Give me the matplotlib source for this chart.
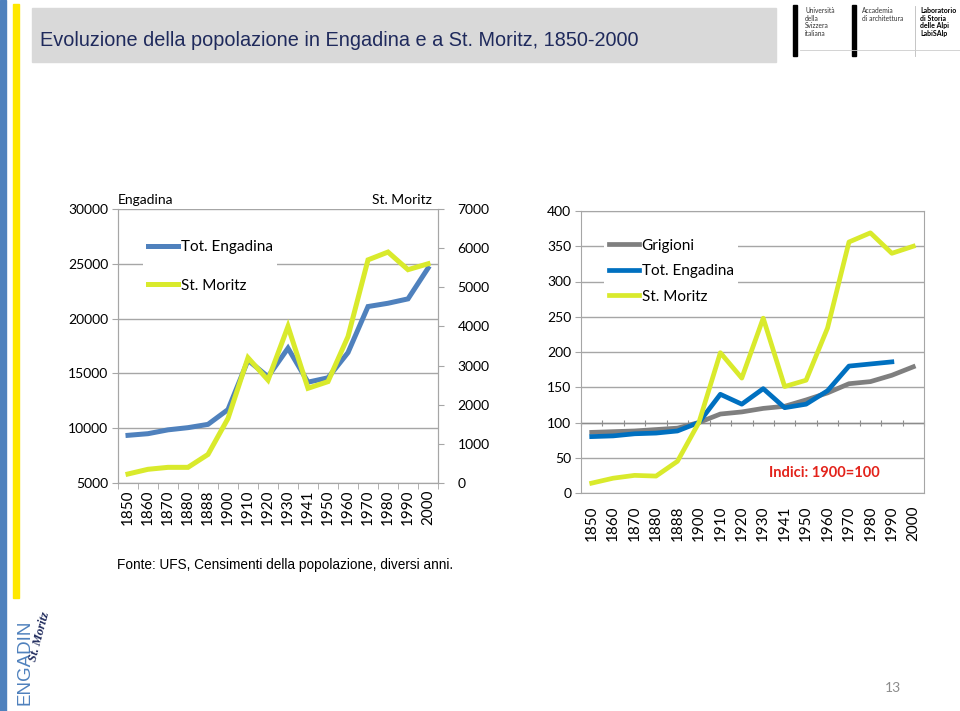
import numpy as np
import matplotlib
matplotlib.use('Agg')
import matplotlib.pyplot as plt
from matplotlib.patches import Rectangle
from matplotlib.lines import Line2D

plt.rcParams['font.family'] = ['Lato', 'DejaVu Sans']

# --- data ---
years = ['1850', '1860', '1870', '1880', '1888', '1900', '1910', '1920',
         '1930', '1941', '1950', '1960', '1970', '1980', '1990', '2000']
engadina = [9350, 9500, 9850, 10050, 10350, 11700, 16200, 14700,
            17300, 14200, 14600, 16900, 21100, 21400, 21800, 24600]
st_moritz = [230, 350, 400, 400, 730, 1650, 3200, 2630,
             4000, 2420, 2590, 3740, 5700, 5900, 5450, 5600]

idx_grigioni = [86, 87, 88, 90, 92, 100, 112, 115,
                120, 123, 132, 142, 155, 158, 167, 179]
idx_engadina = [80, 81, 84, 85, 88, 100, 140, 126,
                148, 121, 126, 145, 180, 183, 186, np.nan]
idx_moritz = [14, 21, 25, 24, 45, 100, 199, 163,
              248, 151, 160, 234, 356, 369, 340, 350]

BLUE = '#4F81BD'
BLUE2 = '#0070C0'
YELLOW = '#D9EA2C'
GRAY = '#7F7F7F'
GRID = '#A6A6A6'
YFS = 10
XFS = 11

fig = plt.figure(figsize=(9.6, 7.11), dpi=100)
W, H = 960, 711


def fx(px):
    return px / W


def fy(py):
    return 1 - py / H


# --- slide decoration ---
fig.patches.append(Rectangle((0, 0), fx(6), 1, transform=fig.transFigure,
                             color='#4F81BD', zorder=0))
fig.patches.append(Rectangle((fx(13), fy(598)), fx(6), fy(4) - fy(598),
                             transform=fig.transFigure, color='#FFE800', zorder=0))
fig.patches.append(Rectangle((fx(32), fy(62)), fx(776 - 32), fy(8) - fy(62),
                             transform=fig.transFigure, color='#D9D9D9', zorder=0))
fig.text(fx(40), fy(40), 'Evoluzione della popolazione in Engadina e a St. Moritz, 1850-2000',
         fontsize=14.3, color='#1F2A5C', va='center', ha='left',
         family=['Liberation Sans Narrow', 'Liberation Sans', 'DejaVu Sans'])

# logos top right
for x0 in (793, 852):
    fig.patches.append(Rectangle((fx(x0), fy(56)), fx(4), fy(5) - fy(56),
                                 transform=fig.transFigure, color='black'))
fig.add_artist(Line2D([fx(915), fx(915)], [fy(56), fy(6)], transform=fig.transFigure,
                      color='#BBBBBB', lw=0.6))
fig.add_artist(Line2D([fx(800), fx(960)], [fy(50), fy(50)], transform=fig.transFigure,
                      color='#CCCCCC', lw=0.6))
fig.text(fx(805), fy(7), 'Università\ndella\nSvizzera\nitaliana', fontsize=4.8,
         va='top', ha='left', color='#333333', linespacing=1.1)
fig.text(fx(862), fy(7), 'Accademia\ndi architettura', fontsize=4.8,
         va='top', ha='left', color='#333333', linespacing=1.1)
fig.text(fx(920), fy(7), 'Laboratorio\ndi Storia\ndelle Alpi\nLabiSAlp', fontsize=5,
         va='top', ha='left', color='black', fontweight='bold', linespacing=1.1)

# logo bottom left
fig.text(fx(25), fy(662), 'ENGADIN', rotation=90, fontsize=13.5, color='#4F81BD',
         ha='center', va='center', family=['Liberation Sans', 'DejaVu Sans'])
fig.text(fx(40), fy(637), 'St. Moritz', rotation=75, fontsize=9, color='#1F2A5C',
         ha='center', va='center', style='italic', fontweight='bold',
         family=['Liberation Serif', 'DejaVu Serif'])

fig.text(fx(117), fy(565), 'Fonte: UFS, Censimenti della popolazione, diversi anni.',
         fontsize=9.8, ha='left', va='center',
         family=['Liberation Sans Narrow', 'Liberation Sans', 'DejaVu Sans'])
fig.text(fx(893), fy(688), '13', fontsize=10, color='#8C8C8C', ha='center', va='center')

x = np.arange(len(years))
bounds = np.arange(len(years) + 1) - 0.5


def style_axis(ax, pad):
    ax.set_xlim(-0.5, len(years) - 0.5)
    ax.set_xticks(x)
    ax.set_xticklabels(years, rotation=90, fontsize=XFS)
    ax.set_xticks(bounds, minor=True)
    ax.tick_params(axis='x', which='major', length=0, pad=pad)
    ax.tick_params(axis='x', which='minor', length=4, color=GRID, direction='out')
    ax.tick_params(axis='y', length=4, color=GRID, labelsize=YFS, pad=3)
    ax.yaxis.grid(True, color=GRID, lw=1)
    ax.set_axisbelow(True)
    for s in ax.spines.values():
        s.set_color(GRID)


# --- left chart: absolute values, twin axes ---
ax1 = fig.add_axes([fx(118), fy(483), fx(320), fy(209) - fy(483)])
style_axis(ax1, 5)
ax1.set_ylim(5000, 30000)
ax1.set_yticks(np.arange(5000, 30001, 5000))
ax1.plot(x, engadina, color=BLUE, lw=3.6, solid_joinstyle='miter', label='Tot. Engadina')
ax1.spines['top'].set_visible(False)

ax2 = ax1.twinx()
ax2.set_ylim(0, 7000)
ax2.set_yticks(np.arange(0, 7001, 1000))
ax2.tick_params(axis='y', length=4, color=GRID, labelsize=YFS, pad=10)
for s in ax2.spines.values():
    s.set_color(GRID)
ax2.spines['top'].set_visible(False)
ax2.plot(x, st_moritz, color=YELLOW, lw=3.6, solid_joinstyle='miter', label='St. Moritz')

h1, l1 = ax1.get_legend_handles_labels()
h2, l2 = ax2.get_legend_handles_labels()
ax2.legend(h1 + h2, l1 + l2, loc='upper left', bbox_to_anchor=(0.055, 0.93),
           fontsize=11, frameon=True, facecolor='white', edgecolor='none',
           framealpha=1, fancybox=False, handlelength=2.0, handletextpad=0.15,
           labelspacing=1.6, borderpad=0.3)

ax1.text(0, 1.012, 'Engadina', transform=ax1.transAxes, ha='left', va='bottom', fontsize=YFS)
ax1.text(0.98, 1.012, 'St. Moritz', transform=ax1.transAxes, ha='right', va='bottom',
         fontsize=YFS)

# --- right chart: indices ---
ax3 = fig.add_axes([fx(581), fy(493), fx(343), fy(211) - fy(493)])
style_axis(ax3, 9)
ax3.tick_params(axis='x', which='minor', length=0)
ax3.set_ylim(0, 400)
ax3.set_yticks(np.arange(0, 401, 50))
ax3.plot(x, idx_grigioni, color=GRAY, lw=3.4, label='Grigioni')
ax3.plot(x, idx_engadina, color=BLUE2, lw=3.4, label='Tot. Engadina')
ax3.plot(x, idx_moritz, color=YELLOW, lw=3.4, label='St. Moritz')
ax3.axhline(100, color='#8C8C8C', lw=1, zorder=1)

sec = ax3.secondary_xaxis(0.25)
sec.set_xticks(bounds)
sec.set_xticklabels([])
sec.tick_params(length=5, direction='inout', color='#8C8C8C')
sec.spines['bottom'].set_visible(False)

ax3.legend(loc='upper left', bbox_to_anchor=(0.045, 0.945), fontsize=11, frameon=True,
           facecolor='white', edgecolor='none', framealpha=1, fancybox=False,
           handlelength=2.0, handletextpad=0.15, labelspacing=0.75, borderpad=0.3)
ax3.text(0.71, 0.071, 'Indici: 1900=100', transform=ax3.transAxes, ha='center',
         va='center', color='#E3231B', fontweight='bold', fontsize=10.5)

fig.savefig('out.png', dpi=100)
